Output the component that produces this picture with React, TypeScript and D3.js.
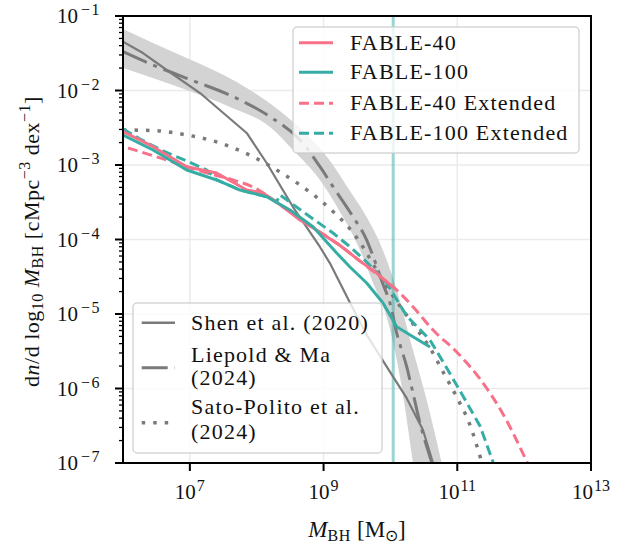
import React from 'react';
import * as d3 from 'd3';

// ---- data (log10 M_BH, log10 phi) ----
const shenLogM = [6.0, 6.299, 6.654, 7.152, 7.85, 8.149, 8.543, 8.946, 9.096, 9.395, 9.645, 9.944, 10.243, 10.487, 10.637];
const shenLogPhi = [-1.345, -1.497, -1.725, -2.034, -2.57, -2.973, -3.564, -4.1, -4.32, -4.85, -5.28, -5.707, -6.13, -6.557, -7.0];

const liepoldLogM = [6.0, 6.449, 6.953, 7.701, 8.199, 8.647, 8.946, 9.141, 9.44, 9.645, 9.739, 9.889, 9.993, 10.094, 10.243, 10.337, 10.442, 10.592, 10.62];
const liepoldLogPhi = [-1.479, -1.658, -1.836, -2.105, -2.352, -2.664, -3.023, -3.291, -3.694, -4.007, -4.22, -4.6, -4.85, -5.255, -5.707, -6.06, -6.463, -6.919, -7.0];

const liepoldUpperLogM = [6.0, 6.449, 6.953, 7.701, 8.348, 8.647, 8.946, 9.141, 9.395, 9.645, 9.844, 10.094, 10.337, 10.542, 10.767];
const liepoldUpperLogPhi = [-1.174, -1.362, -1.564, -1.886, -2.275, -2.503, -2.772, -3.0, -3.35, -3.7, -4.05, -4.678, -5.483, -6.154, -7.0];
const liepoldLowerLogM = [6.0, 6.953, 7.6, 8.199, 8.543, 8.946, 9.246, 9.545, 9.739, 9.944, 10.143, 10.337];
const liepoldLowerLogPhi = [-1.698, -1.993, -2.221, -2.49, -2.799, -3.202, -3.631, -4.141, -4.584, -5.04, -5.846, -7.0];

const satoLogM = [6.0, 6.449, 6.953, 7.451, 7.944, 8.348, 8.647, 8.946, 9.196, 9.395, 9.59, 9.739, 9.889, 10.143, 10.392, 10.592, 10.787, 10.991, 11.19, 11.369];
const satoLogPhi = [-2.53, -2.537, -2.597, -2.705, -2.889, -3.094, -3.268, -3.47, -3.671, -3.859, -4.101, -4.329, -4.557, -4.893, -5.201, -5.456, -5.779, -6.114, -6.49, -7.0];

const fable40LogM = [6.0, 6.449, 6.953, 7.401, 7.85, 8.094, 8.393, 8.647, 8.897, 9.246, 9.545, 9.794, 10.038];
const fable40LogPhi = [-2.553, -2.754, -3.023, -3.107, -3.336, -3.376, -3.56, -3.738, -3.872, -4.08, -4.29, -4.45, -4.638];

const fable100LogM = [6.0, 6.449, 6.953, 7.401, 7.75, 8.149, 8.498, 8.842, 9.196, 9.395, 9.645, 9.889, 10.094, 10.337, 10.592];
const fable100LogPhi = [-2.597, -2.799, -3.067, -3.201, -3.336, -3.426, -3.604, -3.828, -4.181, -4.369, -4.584, -4.852, -5.17, -5.305, -5.443];

const fable40ExtLogM = [6.075, 6.654, 7.102, 7.645, 7.944, 8.393, 8.897, 9.246, 9.545, 9.794, 10.094, 10.337, 10.637, 10.991, 11.34, 11.683, 12.05];
const fable40ExtLogPhi = [-2.772, -2.933, -3.067, -3.201, -3.295, -3.564, -3.872, -4.08, -4.29, -4.463, -4.678, -4.902, -5.215, -5.51, -5.872, -6.342, -7.0];

const fable100ExtLogM = [6.0, 6.254, 6.598, 6.953, 7.252, 7.401, 7.75, 8.149, 8.3, 8.348, 8.498, 8.797, 9.141, 9.395, 9.645, 9.944, 10.243, 10.592, 10.842, 11.085, 11.34, 11.54];
const fable100ExtLogPhi = [-2.517, -2.651, -2.812, -2.946, -3.067, -3.201, -3.336, -3.426, -3.49, -3.4, -3.5, -3.694, -3.913, -4.097, -4.302, -4.584, -5.027, -5.349, -5.725, -6.101, -6.503, -7.0];

const verticalLineMass = 1.1e10;

const xTickExps = [7, 9, 11, 13];
const yTickExps = [-7, -6, -5, -4, -3, -2, -1];

const legendMain = ['FABLE-40', 'FABLE-100', 'FABLE-40 Extended', 'FABLE-100 Extended'];
const legendRefs = ['Shen et al. (2020)', 'Liepold & Ma', '(2024)', 'Sato-Polito et al.', '(2024)'];

const PINK = '#f77189';
const TEAL = '#36ada4';
const GRAY = '#7a7a7a';
const FONT = '"Liberation Serif", "Times New Roman", serif';
const DASHDOT = '26,7,4,7';
const DOTTED = '3.5,8';

export default function App() {
  const W = 635, H = 543;
  const L = 123, R = 591, T = 16, B = 463;
  const x = d3.scaleLog().domain([1e6, 1e13]).range([L, R]);
  const y = d3.scaleLog().domain([1e-7, 1e-1]).range([B, T]);
  const pts = (lm: number[], lp: number[]) => lm.map((v, i) => [10 ** v, 10 ** lp[i]] as [number, number]);
  const line = d3.line<[number, number]>().x(d => x(d[0])).y(d => y(d[1]));
  const smooth = d3.line<[number, number]>().x(d => x(d[0])).y(d => y(d[1])).curve(d3.curveMonotoneX);

  // band: region below upper curve, clipped to region above lower curve
  const upperD = smooth(pts(liepoldUpperLogM, liepoldUpperLogPhi)) || '';
  const lowerD = smooth(pts(liepoldLowerLogM, liepoldLowerLogPhi)) || '';
  const bandBelowUpper = `${upperD}L${L},${B}Z`;
  const regionAboveLower = `${lowerD}L${R},${B}L${R},${T}L${L},${T}Z`;

  const minorY: number[] = [];
  for (let k = -7; k < -1; k++) for (let j = 2; j <= 9; j++) minorY.push(j * 10 ** k);

  const legendHandles = [
    { color: PINK, dash: undefined },
    { color: TEAL, dash: undefined },
    { color: PINK, dash: '10,5' },
    { color: TEAL, dash: '10,5' },
  ];
  const legendRowsY = [42.7, 72.3, 103.3, 133.3];
  const refRowsY = [330, 362, 385, 414, 439];

  return (
    <svg width={W} height={H} style={{ position: 'absolute', left: 0, top: 0, background: '#fff' }} fontFamily={FONT}>
      <defs>
        <clipPath id="plotclip">
          <rect x={L} y={T} width={R - L} height={B - T} />
        </clipPath>
        <clipPath id="bandclip">
          <path d={regionAboveLower} />
        </clipPath>
      </defs>
      <rect x={0} y={0} width={W} height={H} fill="#fff" />
      {/* grid */}
      <g stroke="#ebebeb" strokeWidth={1.5}>
        {xTickExps.filter(e => e < 13).map(e => (
          <line key={'gx' + e} x1={x(10 ** e)} x2={x(10 ** e)} y1={T} y2={B} />
        ))}
        {yTickExps.filter(e => e > -7 && e < -1).map(e => (
          <line key={'gy' + e} x1={L} x2={R} y1={y(10 ** e)} y2={y(10 ** e)} />
        ))}
      </g>
      <g clipPath="url(#plotclip)">
        <g clipPath="url(#bandclip)">
          <path d={bandBelowUpper} fill="#d3d3d3" stroke="none" />
        </g>
        <line x1={x(verticalLineMass)} x2={x(verticalLineMass)} y1={T} y2={B} stroke={TEAL} strokeOpacity={0.5} strokeWidth={3} />
        <path d={smooth(pts(liepoldLogM, liepoldLogPhi)) || ''} fill="none" stroke={GRAY} strokeWidth={3} strokeDasharray={DASHDOT} />
        <path d={line(pts(shenLogM, shenLogPhi)) || ''} fill="none" stroke={GRAY} strokeWidth={2.2} strokeLinejoin="round" />
        <path d={smooth(pts(satoLogM, satoLogPhi)) || ''} fill="none" stroke={GRAY} strokeWidth={3.5} strokeDasharray={DOTTED} />
        <path d={smooth(pts(fable40ExtLogM, fable40ExtLogPhi)) || ''} fill="none" stroke={PINK} strokeWidth={3} strokeDasharray="10,5" />
        <path d={line(pts(fable100ExtLogM, fable100ExtLogPhi)) || ''} fill="none" stroke={TEAL} strokeWidth={3} strokeDasharray="10,5" />
        <path d={line(pts(fable40LogM, fable40LogPhi)) || ''} fill="none" stroke={PINK} strokeWidth={3} strokeLinejoin="round" />
        <path d={line(pts(fable100LogM, fable100LogPhi)) || ''} fill="none" stroke={TEAL} strokeWidth={3} strokeLinejoin="round" />
      </g>
      {/* spines */}
      <rect x={L} y={T} width={R - L} height={B - T} fill="none" stroke="#000" strokeWidth={2} />
      {/* x ticks */}
      {xTickExps.map(e => (
        <g key={'xt' + e}>
          <line x1={x(10 ** e)} x2={x(10 ** e)} y1={B} y2={B + 8} stroke="#000" strokeWidth={2} />
          <text x={x(10 ** e)} y={499} textAnchor="middle" fontSize={21} fill="#111">
            10<tspan dx={1} dy={-8} fontSize={16}>{e}</tspan>
          </text>
        </g>
      ))}
      {/* y ticks */}
      {yTickExps.map(e => (
        <g key={'yt' + e}>
          <line x1={L - 8} x2={L} y1={y(10 ** e)} y2={y(10 ** e)} stroke="#000" strokeWidth={2} />
          <text x={101} y={y(10 ** e) + 7} textAnchor="end" fontSize={21} fill="#111">
            10<tspan dx={3} dy={-8} fontSize={16} letterSpacing={1.5}>{'\u2212' + Math.abs(e)}</tspan>
          </text>
        </g>
      ))}
      {minorY.map((v, i) => (
        <line key={'my' + i} x1={L - 4} x2={L} y1={y(v)} y2={y(v)} stroke="#000" strokeWidth={1.3} />
      ))}
      {/* axis labels */}
      <text x={(L + R) / 2} y={537} textAnchor="middle" fontSize={23} fill="#111">
        <tspan fontStyle="italic">M</tspan>
        <tspan dy={4} fontSize={16} letterSpacing={0.8}>BH</tspan>
        <tspan dy={-4}> [M</tspan>
        <tspan dy={4} fontSize={16}>⊙</tspan>
        <tspan dy={-4}>]</tspan>
      </text>
      <text transform={`translate(39,${(T + B) / 2 + 2}) rotate(-90)`} textAnchor="middle" fontSize={22} fill="#111" letterSpacing={0.5}>
        <tspan>d</tspan>
        <tspan fontStyle="italic">n</tspan>
        <tspan>/d log</tspan>
        <tspan dy={4} fontSize={16}>10</tspan>
        <tspan dy={-4}> </tspan>
        <tspan fontStyle="italic">M</tspan>
        <tspan dy={4} fontSize={16}>BH</tspan>
        <tspan dy={-4}> [cMpc</tspan>
        <tspan dy={-9} fontSize={16}>{'\u22123'}</tspan>
        <tspan dy={9}> dex</tspan>
        <tspan dy={-9} fontSize={16}>{'\u22121'}</tspan>
        <tspan dy={9}>]</tspan>
      </text>
      {/* legend 1 */}
      <g>
        <rect x={293} y={27} width={286} height={126} rx={4} fill="#fff" fillOpacity={0.8} stroke="#cccccc" strokeOpacity={0.8} strokeWidth={1.5} />
        {legendMain.map((label, i) => (
          <g key={'lg' + i}>
            <line x1={299} x2={333} y1={legendRowsY[i]} y2={legendRowsY[i]} stroke={legendHandles[i].color} strokeWidth={3} strokeDasharray={legendHandles[i].dash} />
            <text x={350} y={legendRowsY[i] + 7} fontSize={22} fill="#111" letterSpacing={1.2}>{label}</text>
          </g>
        ))}
      </g>
      {/* legend 2 */}
      <g>
        <rect x={133} y={303} width={249} height={150} rx={4} fill="#fff" fillOpacity={0.8} stroke="#cccccc" strokeOpacity={0.8} strokeWidth={1.5} />
        <line x1={141.7} x2={175} y1={322.7} y2={322.7} stroke={GRAY} strokeWidth={2.5} />
        <line x1={141.7} x2={175} y1={367.7} y2={367.7} stroke={GRAY} strokeWidth={3} strokeDasharray={DASHDOT} />
        <line x1={141.7} x2={175} y1={422.7} y2={422.7} stroke={GRAY} strokeWidth={3.5} strokeDasharray={DOTTED} />
        {legendRefs.map((label, i) => (
          <text key={'lr' + i} x={191} y={refRowsY[i]} fontSize={22} fill="#111" letterSpacing={1.2}>{label}</text>
        ))}
      </g>
    </svg>
  );
}
